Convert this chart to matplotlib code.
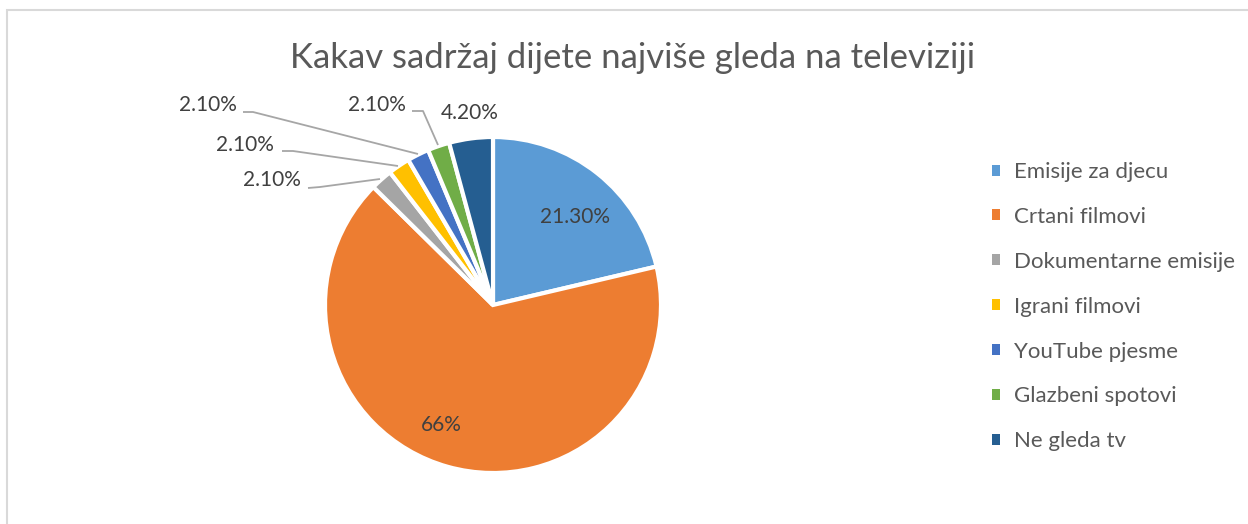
import matplotlib.pyplot as plt
from matplotlib.patches import Rectangle

# chart data
categories = ['Emisije za djecu', 'Crtani filmovi', 'Dokumentarne emisije',
              'Igrani filmovi', 'YouTube pjesme', 'Glazbeni spotovi', 'Ne gleda tv']
values = [21.3, 66, 2.1, 2.1, 2.1, 2.1, 4.2]
labels = ['21.30%', '66%', '2.10%', '2.10%', '2.10%', '2.10%', '4.20%']
colors = ['#5B9BD5', '#ED7D31', '#A5A5A5', '#FFC000', '#4472C4', '#70AD47', '#255E91']

plt.rcParams['font.family'] = ['Lato', 'DejaVu Sans']
text_col = '#595959'

W, H = 1248, 524
fig = plt.figure(figsize=(W / 100, H / 100), dpi=100)

# outer chart border
fig.patches.append(Rectangle((7 / W, -0.1), 1.2, 1 - 10 / H + 0.1, transform=fig.transFigure,
                             fill=False, edgecolor='#D9D9D9', linewidth=1.5))

# pie axes: centre at pixel (493, 305), radius 168 px -> 1 unit
cx, cy, r = 493, 305, 168
ax = fig.add_axes([(cx - 2 * r) / W, 0, 4 * r / W, 1])
wedges, _ = ax.pie(values, colors=colors, startangle=90, counterclock=False,
                   wedgeprops=dict(edgecolor='white', linewidth=3))
ax.set_aspect('auto')
ax.set_xlim(-2, 2)
ax.set_ylim(-(H - cy) / r, cy / r)


def px(x, y):
    return (x - cx) / r, (cy - y) / r


lab_kw = dict(fontsize=15, color='#404040', ha='center', va='center')

# inside labels
ax.text(*px(575, 217), labels[0], **lab_kw)
ax.text(*px(441, 425), labels[1], **lab_kw)
ax.text(*px(470, 113), labels[6], **lab_kw)

# outside labels with leader lines: (text pos, leader points)
outside = [
    (2, (272, 180), [(308, 188), (320, 187), (380, 179)]),
    (3, (245, 145), [(282, 151), (293, 151), (398, 166)]),
    (4, (208, 105), [(243, 112), (253, 112), (418, 154)]),
    (5, (377, 105), [(412, 111), (423, 111), (438, 145)]),
]
for i, tpos, pts in outside:
    ax.text(*px(*tpos), labels[i], **lab_kw)
    xs, ys = zip(*[px(*p) for p in pts])
    ax.plot(xs, ys, color='#A6A6A6', linewidth=1.3, solid_capstyle='butt')

fig.text(633 / W, 1 - 58 / H, 'Kakav sadržaj dijete najviše gleda na televiziji',
         fontsize=25, color=text_col, ha='center', va='center')

# legend
leg = fig.legend(wedges, categories, loc='upper left', bbox_to_anchor=(972 / W, 1 - 142 / H),
                 frameon=False, fontsize=16, labelcolor=text_col, handlelength=0.38,
                 handleheight=0.38, handletextpad=0.6, labelspacing=1.12)
for h in leg.legend_handles:
    h.set_linewidth(0)

fig.savefig('out.png', dpi=100)
